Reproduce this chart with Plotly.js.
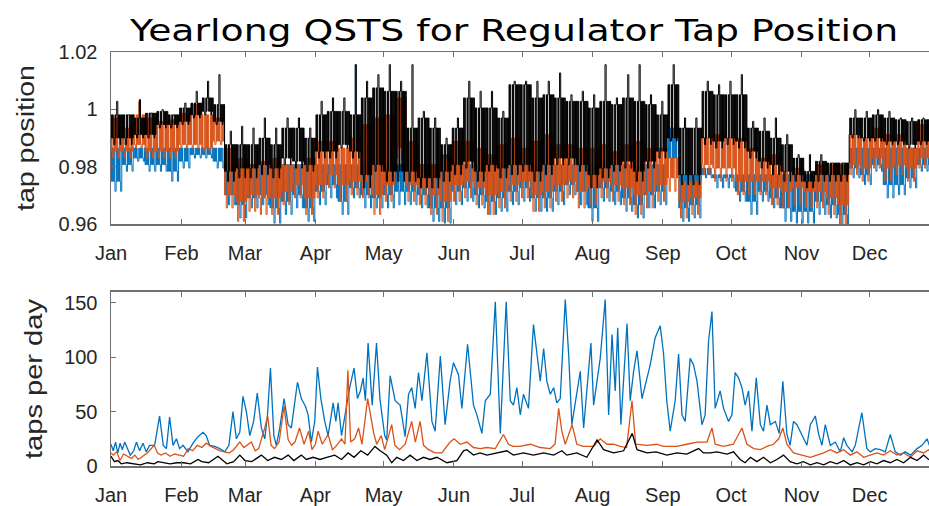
<!DOCTYPE html>
<html>
<head>
<meta charset="utf-8">
<script src="https://cdn.plot.ly/plotly-3.0.1.min.js"></script>
<style>
html,body{margin:0;padding:0;overflow:hidden;background:#fff;width:929px;height:506px;}
#chart{width:945px;height:506px;}
</style>
</head>
<body>
<div id="chart"></div>
<script>
// ---------- axis / label data ----------
const monthLabels = ['Jan','Feb','Mar','Apr','May','Jun','Jul','Aug','Sep','Oct','Nov','Dec'];
const monthLengths = [31,28,31,30,31,30,31,31,30,31,30,31];
const tapTickVals = [0.96, 0.98, 1.0, 1.02];
const tapTickText = ['0.96','0.98','1','1.02'];
const perDayTickVals = [0, 50, 100, 150];
const titleText = 'Yearlong QSTS for Regulator Tap Position';
const topYLabel = 'tap position';
const bottomYLabel = 'taps per day';

// ---------- top panel: tap position envelopes, 5-day bins (Jan 1 = day 0) ----------
// hi = typical upper level, pk = brief upward peak, typLo = typical lower level, lo = brief downward extreme
const binDays = 5;
const blackHi = [0.9981,0.9981,0.9970,0.9987,0.9993,0.9981,1.0005,1.0022,1.0040,1.0017,
  0.9877,0.9877,0.9877,0.9900,0.9877,0.9935,0.9935,0.9900,0.9981,0.9993,
  0.9993,0.9981,1.0040,1.0075,1.0063,1.0063,0.9935,0.9970,0.9935,0.9877,
  0.9935,1.0040,1.0005,1.0005,0.9970,1.0086,1.0086,1.0040,1.0051,1.0040,
  1.0028,1.0028,1.0005,1.0028,1.0017,1.0040,1.0028,1.0017,0.9981,1.0086,
  0.9935,0.9935,1.0063,1.0051,1.0051,1.0051,0.9935,0.9924,0.9900,0.9877,
  0.9830,0.9784,0.9819,0.9813,0.9813,0.9970,0.9970,0.9981,0.9970,0.9964,
  0.9958,0.9964,0.9964];
const blackPk = [1.0028,0.9981,1.0034,0.9987,0.9999,0.9981,1.0022,1.0063,1.0098,1.0121,
  0.9924,0.9941,0.9935,0.9970,0.9935,0.9970,0.9970,0.9935,1.0028,1.0040,
  1.0040,1.0156,1.0098,1.0121,1.0156,1.0098,1.0156,0.9993,0.9970,0.9900,
  0.9970,1.0098,1.0063,1.0063,0.9993,1.0098,1.0098,1.0098,1.0098,1.0127,
  1.0051,1.0063,1.0051,1.0156,1.0040,1.0121,1.0156,1.0051,1.0028,1.0156,
  0.9970,0.9970,1.0098,1.0086,1.0098,1.0121,0.9958,0.9970,0.9970,0.9912,
  0.9842,0.9842,0.9842,0.9813,0.9813,0.9999,0.9993,0.9999,0.9993,0.9970,
  0.9970,0.9970,0.9970];
const blackTypLo = [0.9900,0.9900,0.9912,0.9912,0.9947,0.9947,0.9958,0.9981,0.9993,0.9958,
  0.9784,0.9795,0.9795,0.9807,0.9795,0.9830,0.9819,0.9807,0.9854,0.9854,
  0.9877,0.9854,0.9772,0.9807,0.9784,0.9784,0.9784,0.9761,0.9761,0.9784,
  0.9807,0.9819,0.9784,0.9807,0.9795,0.9807,0.9807,0.9784,0.9807,0.9830,
  0.9830,0.9807,0.9772,0.9795,0.9807,0.9819,0.9784,0.9819,0.9854,0.9900,
  0.9772,0.9772,0.9900,0.9889,0.9900,0.9889,0.9854,0.9819,0.9807,0.9784,
  0.9772,0.9749,0.9772,0.9772,0.9772,0.9912,0.9900,0.9900,0.9889,0.9889,
  0.9877,0.9889,0.9889];
const blackLo = [0.9877,0.9877,0.9900,0.9900,0.9935,0.9935,0.9947,0.9970,0.9981,0.9947,
  0.9749,0.9761,0.9761,0.9772,0.9761,0.9807,0.9795,0.9784,0.9830,0.9830,
  0.9865,0.9830,0.9726,0.9784,0.9749,0.9749,0.9749,0.9726,0.9726,0.9749,
  0.9772,0.9795,0.9749,0.9784,0.9761,0.9772,0.9784,0.9749,0.9772,0.9807,
  0.9807,0.9784,0.9726,0.9761,0.9784,0.9795,0.9749,0.9795,0.9830,0.9889,
  0.9737,0.9737,0.9877,0.9865,0.9877,0.9865,0.9830,0.9795,0.9772,0.9749,
  0.9749,0.9726,0.9749,0.9749,0.9749,0.9900,0.9889,0.9889,0.9877,0.9877,
  0.9865,0.9877,0.9877];
const orangeHi = [0.9970,0.9935,0.9981,0.9970,0.9958,0.9964,0.9987,1.0017,0.9981,0.9970,
  0.9865,0.9830,0.9807,0.9819,0.9830,0.9807,0.9807,0.9830,0.9889,0.9889,
  0.9865,0.9900,0.9947,0.9970,0.9981,1.0040,0.9889,0.9807,0.9807,0.9830,
  0.9889,0.9889,0.9865,0.9842,0.9877,0.9900,0.9865,0.9889,0.9912,0.9877,
  0.9877,0.9865,0.9865,0.9877,0.9854,0.9877,0.9889,0.9865,0.9865,0.9830,
  0.9749,0.9749,0.9900,0.9912,0.9900,0.9900,0.9865,0.9830,0.9842,0.9784,
  0.9795,0.9749,0.9807,0.9807,0.9807,0.9912,0.9900,0.9935,0.9912,0.9912,
  0.9865,0.9947,0.9947];
const orangePk = [0.9970,0.9935,1.0028,0.9970,0.9958,0.9964,0.9987,1.0017,0.9981,0.9970,
  0.9865,0.9830,0.9807,0.9819,0.9830,0.9807,0.9807,0.9830,0.9889,0.9889,
  0.9865,0.9900,0.9947,0.9970,0.9981,1.0040,0.9889,0.9807,0.9807,0.9830,
  0.9889,0.9889,0.9865,0.9842,0.9877,0.9900,0.9865,0.9889,0.9912,0.9877,
  0.9877,0.9865,0.9865,0.9877,0.9854,0.9877,0.9889,0.9865,0.9865,0.9830,
  0.9749,0.9749,0.9900,0.9912,0.9900,0.9900,0.9865,0.9830,0.9842,0.9784,
  0.9795,0.9749,0.9807,0.9807,0.9807,0.9912,0.9900,0.9935,0.9912,0.9912,
  0.9865,0.9947,0.9947];
const orangeTypLo = [0.9854,0.9854,0.9877,0.9854,0.9854,0.9854,0.9877,0.9877,0.9865,0.9889,
  0.9702,0.9679,0.9702,0.9691,0.9691,0.9714,0.9737,0.9691,0.9737,0.9772,
  0.9737,0.9749,0.9749,0.9702,0.9737,0.9865,0.9737,0.9726,0.9702,0.9679,
  0.9737,0.9749,0.9726,0.9702,0.9714,0.9737,0.9749,0.9702,0.9714,0.9737,
  0.9749,0.9714,0.9726,0.9749,0.9737,0.9726,0.9702,0.9714,0.9737,0.9761,
  0.9679,0.9691,0.9807,0.9795,0.9795,0.9749,0.9749,0.9749,0.9726,0.9714,
  0.9726,0.9714,0.9714,0.9691,0.9667,0.9807,0.9795,0.9830,0.9795,0.9807,
  0.9795,0.9830,0.9830];
const orangeLo = [0.9830,0.9830,0.9865,0.9830,0.9830,0.9830,0.9865,0.9865,0.9854,0.9877,
  0.9656,0.9609,0.9644,0.9633,0.9633,0.9667,0.9691,0.9633,0.9691,0.9726,
  0.9679,0.9702,0.9691,0.9633,0.9679,0.9830,0.9679,0.9667,0.9633,0.9609,
  0.9679,0.9691,0.9667,0.9633,0.9656,0.9679,0.9691,0.9644,0.9656,0.9679,
  0.9691,0.9656,0.9667,0.9691,0.9679,0.9667,0.9633,0.9656,0.9679,0.9714,
  0.9621,0.9633,0.9772,0.9749,0.9749,0.9702,0.9702,0.9702,0.9667,0.9656,
  0.9667,0.9656,0.9656,0.9633,0.9597,0.9772,0.9749,0.9795,0.9749,0.9772,
  0.9749,0.9795,0.9795];
const blueHi = [0.9865,0.9865,0.9865,0.9865,0.9865,0.9865,0.9865,0.9865,0.9865,0.9865,
  0.9807,0.9807,0.9807,0.9807,0.9807,0.9807,0.9807,0.9807,0.9807,0.9807,
  0.9807,0.9807,0.9807,0.9807,0.9807,0.9807,0.9807,0.9807,0.9807,0.9842,
  0.9807,0.9807,0.9807,0.9807,0.9807,0.9807,0.9807,0.9807,0.9807,0.9807,
  0.9807,0.9807,0.9807,0.9807,0.9807,0.9807,0.9807,0.9807,0.9807,0.9935,
  0.9772,0.9772,0.9772,0.9772,0.9772,0.9772,0.9772,0.9772,0.9772,0.9772,
  0.9772,0.9772,0.9772,0.9772,0.9772,0.9865,0.9865,0.9865,0.9865,0.9865,
  0.9865,0.9865,0.9865];
const bluePk = [0.9865,0.9865,0.9865,0.9865,0.9865,0.9865,0.9865,0.9865,0.9865,0.9865,
  0.9807,0.9807,0.9807,0.9807,0.9807,0.9807,0.9807,0.9807,0.9807,0.9807,
  0.9807,1.0156,0.9807,0.9807,0.9807,0.9807,0.9807,0.9807,0.9807,0.9842,
  0.9807,0.9807,0.9807,0.9807,0.9807,0.9807,0.9807,0.9807,0.9807,0.9807,
  0.9807,0.9807,0.9807,0.9807,0.9807,0.9807,0.9807,0.9807,0.9807,0.9935,
  0.9772,0.9772,0.9772,0.9772,0.9772,0.9772,0.9772,0.9772,0.9772,0.9772,
  0.9772,0.9772,0.9772,0.9772,0.9772,0.9865,0.9865,0.9865,0.9865,0.9865,
  0.9865,0.9865,0.9865];
const blueTypLo = [0.9749,0.9807,0.9830,0.9807,0.9807,0.9784,0.9819,0.9842,0.9842,0.9819,
  0.9702,0.9667,0.9691,0.9702,0.9656,0.9679,0.9702,0.9656,0.9714,0.9737,
  0.9679,0.9726,0.9702,0.9691,0.9702,0.9714,0.9714,0.9702,0.9656,0.9656,
  0.9714,0.9726,0.9702,0.9679,0.9691,0.9714,0.9726,0.9691,0.9691,0.9714,
  0.9737,0.9714,0.9656,0.9726,0.9714,0.9691,0.9667,0.9702,0.9714,0.9830,
  0.9656,0.9667,0.9795,0.9761,0.9761,0.9714,0.9679,0.9714,0.9691,0.9656,
  0.9644,0.9644,0.9679,0.9667,0.9633,0.9795,0.9772,0.9807,0.9737,0.9737,
  0.9761,0.9807,0.9807];
const blueLo = [0.9714,0.9784,0.9819,0.9784,0.9784,0.9749,0.9795,0.9830,0.9830,0.9795,
  0.9667,0.9621,0.9656,0.9667,0.9603,0.9633,0.9656,0.9609,0.9667,0.9691,
  0.9633,0.9691,0.9656,0.9656,0.9656,0.9667,0.9667,0.9656,0.9609,0.9603,
  0.9667,0.9679,0.9656,0.9633,0.9644,0.9667,0.9679,0.9644,0.9644,0.9667,
  0.9702,0.9667,0.9609,0.9679,0.9667,0.9644,0.9621,0.9656,0.9667,0.9807,
  0.9609,0.9621,0.9761,0.9726,0.9726,0.9679,0.9633,0.9679,0.9656,0.9609,
  0.9603,0.9603,0.9633,0.9621,0.9597,0.9761,0.9737,0.9784,0.9691,0.9702,
  0.9726,0.9784,0.9784];

// ---------- bottom panel: taps per day ----------
const blueDay = [0,1,2,3,4,5,6,7,8.5,10,11.2,12.6,14.1,15.5,17,19.2,21.4,23,24.4,25.8,27.3,28.8,30.2,31.7,33.9,36.1,38.3,40.5,41.9,43.4,45.7,47.9,50.1,51.9,53.7,55.2,56.7,58.1,59.6,61.1,62.8,64.4,66.2,67.7,68.9,70.2,71.7,72.8,74.3,76.2,78,79.4,82.1,83.8,85.6,86.8,88.2,89.7,90.9,92.4,94.1,95.6,97.8,99,100,101.5,103,105.1,107,108.5,109.8,111,112,113.2,115,116.9,118.4,120.5,121.4,122.9,125.1,127.3,129.5,131,132.4,133.9,135.4,136.9,139.1,141.3,142.7,145,147.1,149.3,150.8,153,154.5,157,159.6,161.1,163.3,164.8,167,169.2,171.4,174,175.8,177.2,178.7,180.2,181.6,183.8,186,187.5,189,190.5,191.9,193.4,194.9,196.3,197.8,200,201.5,202.9,205.1,206.6,208.1,209.5,211.3,212.5,213.9,215.4,217.6,219.1,220.6,222,223.1,224.5,227.2,228.6,230.1,231.6,233.8,236,237.4,239.6,241.8,243.3,244.7,246.2,248.4,249.9,251.4,252.8,255,256.5,258,260.2,261.6,263.1,264.6,266,268.2,269.7,271.9,273.4,274.8,276.3,277.8,279.2,280.7,282.2,284.1,285.9,287.3,288.8,290.3,292.5,294.2,295.8,297.6,299,300.5,302,304.2,306.4,307.9,310.1,311.6,313,314.5,316.7,318.9,321.1,322.6,324,326.3,327.7,330.6,332.8,334.3,336.5,338.7,340.9,343.1,345.3,347.5,349.7,352,354.9,357.1,359.3,361.5,363.5,365];
const blueTaps = [20,14,22,12,21,15,22,17,10,14,22,14,21,13,19,19,46,19,16,45,19,25,16,19,13,21,27,31,28,19,18,16,13,19,50,25,31,64,50,28,41,67,35,25,47,90,28,19,35,62,38,35,77,62,55,47,22,41,91,62,41,28,58,41,58,28,47,72,90,62,69,81,60,113,56,113,62,28,24,83,60,56,27,66,72,53,86,60,104,41,32,101,38,78,95,84,53,112,56,47,30,60,66,151,30,151,60,56,72,47,66,53,130,103,78,108,78,66,72,58,62,153,103,38,66,87,35,72,113,56,78,99,153,47,121,69,127,38,131,60,87,106,62,81,93,118,129,103,60,32,60,103,47,41,99,93,78,38,47,115,142,53,69,53,41,47,86,81,72,56,69,32,81,38,32,56,38,41,30,78,29,19,41,38,29,19,38,46,29,19,38,19,22,13,26,19,13,19,49,16,13,16,15,13,29,13,10,13,10,16,19,25,12,20,14];
const orangeDay = [0,1,2.5,4,5.5,7,9,10.5,12,14,16,19,20.5,22,24,26,28,30,32,34,36,38,40,42,44,46,48,50,52,54,56.7,58.5,60,61.8,63.5,65,67.7,69,70.5,72,74,76.2,78,79.5,81,83,85,87,88.5,90,91.2,93,95.6,97.5,99,101.5,103,104.3,105.5,107.3,109,110.5,113,115.7,117,119,120.5,121.5,123.6,125,127,129.5,132.4,134,136.1,137.6,139.8,142.7,145.7,149.3,151.1,153.7,156.7,159.6,162.5,165.5,169.2,172.8,175,177,180,184.6,189,193.4,195.5,197.1,198.5,200,203,205.1,208,212.5,215.4,218.4,221.3,224.2,227,229.4,231,236,240.3,243,249,253.5,258,262.4,264.6,266,269.7,274,276.3,277.8,280,283,285.9,288.8,291.7,294,295.8,297.6,300.5,305,307.9,310.8,313.8,316.7,319.6,322.6,325.5,328.4,331.4,334.3,337.2,340.2,343.1,346,349,352,354.9,357.8,360,363,365];
const orangeTaps = [12,10,13,5,11,9,7,10,6,9,12,19,12,10,12,9,11,10,9,16,14,19,17,21,18,16,14,13,12,15,22,17,19,22,14,16,35,46,19,16,22,55,24,19,22,35,20,32,15,20,32,20,29,15,18,25,20,88,22,25,35,20,62,30,20,28,15,22,38,19,15,20,41,22,41,19,15,12,12,22,25,20,22,17,16,17,16,29,20,18,18,20,17,16,20,53,32,20,38,20,18,18,25,20,20,18,17,60,20,19,20,18,18,20,22,22,35,20,18,20,29,35,20,16,15,18,20,25,35,20,12,10,8,10,12,15,12,15,10,13,8,10,12,10,14,10,12,8,14,12,15,10,12];
const blackDay = [0,1.5,3,4.5,7,10,13,16,19,20.7,23,26,29,32,35,38.3,40,43,47.1,49,51,54,56.7,59,62,66.2,69,72,75,78,80.5,83.8,86,89,92,95,98.5,101.5,104.4,107,110,113,116.2,118.5,121.4,123.6,125.8,128.8,131.7,134.7,137.6,140.5,143.5,147.9,152.3,155.2,156.7,159.6,162.5,165.5,169.9,174.3,177.2,181.6,186,190.5,194.9,198.5,200.7,205.1,209.5,214,216.9,221.3,225.7,229.5,231.6,236,240,244.7,249.2,253.5,258.7,260.9,263.8,266.8,271.2,274.1,277,279.2,281.5,284.4,287.3,290.3,293.2,296.1,299,302,304.9,307.9,310.8,313.8,316.7,319.6,322.6,325.5,328.4,331.4,334.3,337.2,340.2,343.1,346,349,352,354.9,357.8,360,363,365];
const blackTaps = [9,4,5,2,3,2,1,3,2,4,3,2,3,3,2,6,4,3,9,6,2,4,10,5,4,10,5,8,6,10,5,10,6,8,6,8,10,6,12,8,14,10,18,14,10,3,8,5,10,5,8,6,8,3,5,14,15,10,12,10,12,14,10,12,10,12,10,14,10,12,8,24,15,12,14,30,15,12,13,10,12,11,16,12,12,13,11,13,6,3,8,4,8,3,6,10,4,2,4,1,3,1,4,2,5,1,3,1,4,2,5,3,6,3,8,5,10,6,4,6];

// ---------- build dense step traces from the envelopes ----------
// each bin alternates between its typical levels; the peak/extreme values appear as brief excursions
function envelope(hi, typLo, lo, pk, loSteps, pkSteps) {
  const xs = [], ys = [];
  const sub = 20;
  for (let i = 0; i < hi.length; i++) {
    const s = i * binDays;
    for (let k = 0; k < sub; k++) {
      xs.push(s + k * binDays / sub);
      let v = (k % 2) ? hi[i] : typLo[i];
      if (loSteps.includes(k)) v = lo[i];
      if (pkSteps.includes(k)) v = pk[i];
      ys.push(v);
    }
  }
  xs.push(hi.length * binDays);
  ys.push(typLo[typLo.length - 1]);
  return {xs, ys};
}

const tickVals = [];
let acc = 0;
for (const m of monthLengths) { tickVals.push(acc); acc += m; }

const BLUE = '#0072BD', ORANGE = '#D95319', BLACK = '#000000';
const eb = envelope(blueHi, blueTypLo, blueLo, bluePk, [7,8,17,18], [11]);
const eo = envelope(orangeHi, orangeTypLo, orangeLo, orangePk, [3,4,13,14], [9]);
const ek = envelope(blackHi, blackTypLo, blackLo, blackPk, [5,6,16], [10,11]);

const traces = [
  {x: eb.xs, y: eb.ys, xaxis:'x', yaxis:'y', mode:'lines', line:{color:BLUE, width:1, shape:'hv'}, hoverinfo:'skip'},
  {x: eo.xs, y: eo.ys, xaxis:'x', yaxis:'y', mode:'lines', line:{color:ORANGE, width:1, shape:'hv'}, hoverinfo:'skip'},
  {x: ek.xs, y: ek.ys, xaxis:'x', yaxis:'y', mode:'lines', line:{color:BLACK, width:1, shape:'hv'}, hoverinfo:'skip'},
  {x: blueDay, y: blueTaps, xaxis:'x2', yaxis:'y2', mode:'lines', line:{color:BLUE, width:1.3}},
  {x: orangeDay, y: orangeTaps, xaxis:'x2', yaxis:'y2', mode:'lines', line:{color:ORANGE, width:1.3}},
  {x: blackDay, y: blackTaps, xaxis:'x2', yaxis:'y2', mode:'lines', line:{color:BLACK, width:1.3}}
];

const tickFont = {family:'Liberation Sans, Arial, sans-serif', size:20, color:'#262626'};
const labelFont = {family:'Liberation Sans, Arial, sans-serif', size:23, color:'#262626'};
const axisCommon = {
  showline:true, mirror:'ticks', linecolor:'#707070', linewidth:1.5,
  ticks:'inside', ticklen:5, tickwidth:1, tickcolor:'#707070',
  showgrid:false, zeroline:false, tickfont:tickFont, fixedrange:true
};
const xCommon = Object.assign({}, axisCommon, {
  range:[0,365], tickmode:'array', tickvals:tickVals, ticktext:monthLabels, ticklabelstandoff:10
});

const layout = {
  width:945, height:506,
  margin:{l:111, r:5, t:52, b:40},
  paper_bgcolor:'#ffffff', plot_bgcolor:'#ffffff',
  showlegend:false,
  title:{text:titleText, font:{family:'DejaVu Sans, Verdana, sans-serif', size:31, color:'#000'},
         x:0.544, xanchor:'center', y:0.94, yanchor:'middle', xref:'container', yref:'container'},
  xaxis: Object.assign({}, xCommon, {anchor:'y', domain:[0,1]}),
  yaxis: Object.assign({}, axisCommon, {anchor:'x', domain:[0.5845,1], range:[0.96,1.02],
    tickmode:'array', tickvals:tapTickVals, ticktext:tapTickText, ticklabelstandoff:8,
    title:{text:topYLabel, font:labelFont, standoff:17}}),
  xaxis2: Object.assign({}, xCommon, {anchor:'y2', domain:[0,1]}),
  yaxis2: Object.assign({}, axisCommon, {anchor:'x2', domain:[0,0.4203], range:[0,160],
    tickmode:'array', tickvals:perDayTickVals, ticklabelstandoff:8,
    title:{text:bottomYLabel, font:labelFont, standoff:15}})
};

// the reference draws its title and axis labels in a wider face: stretch the real text to match
function widen(gd) {
  const fit = [['.gtitle', 768], ['.ytitle', 146], ['.y2title', 160]];
  for (const [sel, len] of fit) {
    const el = gd.querySelector(sel);
    if (el) { el.setAttribute('textLength', len); el.setAttribute('lengthAdjust', 'spacingAndGlyphs'); }
  }
}

Plotly.newPlot('chart', traces, layout, {staticPlot:true, displayModeBar:false}).then(widen);
</script>
</body>
</html>
